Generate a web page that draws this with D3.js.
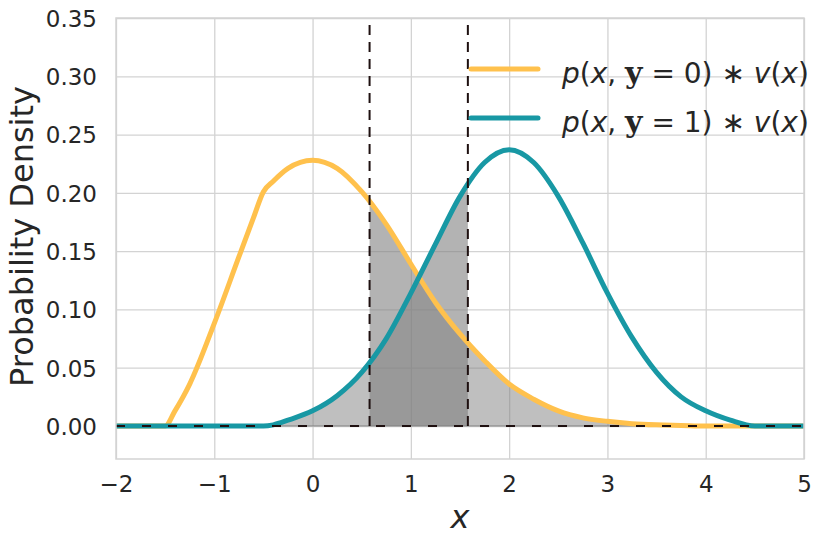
<!DOCTYPE html>
<html>
<head>
<meta charset="utf-8">
<script src="https://cdn.jsdelivr.net/npm/d3@7"></script>
<style>
  body { margin: 0; background: #fff; }
  text { font-family: "DejaVu Sans", sans-serif; fill: #262626; }
</style>
</head>
<body>
<div id="chart"></div>
<script>
// x grid shared by both curves
var xs = [-2, -1.75, -1.5, -1.4, -1.25, -1, -0.75, -0.6, -0.5, -0.4, -0.25, 0, 0.25, 0.5, 0.75, 1, 1.25, 1.5, 1.75, 2, 2.25, 2.5, 2.75, 3, 3.25, 3.5, 3.75, 4, 4.25, 4.5, 4.75, 5];
// p(x, y=0) * v(x)
var yellowVals = [0, 0, 0, 0.013, 0.036, 0.088, 0.145, 0.179, 0.201, 0.210, 0.221, 0.228, 0.221, 0.201, 0.173, 0.139, 0.106, 0.079, 0.056, 0.036, 0.023, 0.013, 0.007, 0.004, 0.002, 0.001, 0.0005, 0, 0, 0, 0, 0];
// p(x, y=1) * v(x)
var tealVals = [0, 0, 0, 0, 0, 0, 0, 0, 0, 0.001, 0.005, 0.013, 0.026, 0.046, 0.075, 0.114, 0.156, 0.197, 0.226, 0.237, 0.226, 0.197, 0.157, 0.114, 0.076, 0.046, 0.025, 0.013, 0.005, 0, 0, 0];
var windowX = [0.58, 1.58];
var xTicks = [-2, -1, 0, 1, 2, 3, 4, 5];
var yTicks = [0, 0.05, 0.10, 0.15, 0.20, 0.25, 0.30, 0.35];
var legendLabels = ["0", "1"];

var svgWidth = 830;
var svgHeight = 545;
var margin = { top: 18, right: 26, bottom: 86, left: 116 };
var chartWidth = svgWidth - margin.left - margin.right;
var chartHeight = svgHeight - margin.top - margin.bottom;

var yellow = "#ffc14d";
var teal = "#1898a4";

var svg = d3.select("#chart")
    .append("svg")
    .attr("width", svgWidth)
    .attr("height", svgHeight);

var chartGroup = svg.append("g")
    .attr("transform", `translate(${margin.left}, ${margin.top})`);

var xScale = d3.scaleLinear().domain([-2, 5]).range([0, chartWidth]);
var yScale = d3.scaleLinear().domain([-0.0283, 0.35]).range([chartHeight, 0]);

var yellowData = xs.map((x, i) => ({ x: x, y: yellowVals[i] }));
var tealData = xs.map((x, i) => ({ x: x, y: tealVals[i] }));

// grid
var xAxis = d3.axisBottom(xScale).tickValues(xTicks).tickSize(-chartHeight)
    .tickFormat(d => d < 0 ? "\u2212" + Math.abs(d) : d).tickPadding(17);
var yAxis = d3.axisLeft(yScale).tickValues(yTicks).tickSize(-chartWidth)
    .tickFormat(d3.format(".2f")).tickPadding(19);

var gx = chartGroup.append("g")
    .attr("transform", `translate(0, ${chartHeight})`)
    .call(xAxis);
var gy = chartGroup.append("g").call(yAxis);

[gx, gy].forEach(function (g) {
    g.select(".domain").remove();
    g.selectAll("line").attr("stroke", "#d3d3d3").attr("stroke-width", 1.3);
    g.selectAll("text").attr("font-size", "23px").attr("fill", "#262626");
});
gx.selectAll("text").attr("dy", "0.71em");
gy.selectAll("text").attr("dy", "0.36em");

// fills
var area = d3.area().curve(d3.curveMonotoneX)
    .x(d => xScale(d.x)).y0(yScale(0)).y1(d => yScale(d.y));

var defs = svg.append("defs");
defs.append("clipPath").attr("id", "underTeal")
    .append("path").attr("d", area(tealData));
defs.append("clipPath").attr("id", "windowClip")
    .append("rect")
    .attr("x", xScale(windowX[0]))
    .attr("y", 0)
    .attr("width", xScale(windowX[1]) - xScale(windowX[0]))
    .attr("height", chartHeight);

// area under min of both curves
chartGroup.append("g")
    .attr("opacity", 0.5)
    .append("path")
    .attr("d", area(yellowData))
    .attr("fill", "#808080")
    .attr("clip-path", "url(#underTeal)");

// area under max of both curves inside the window
var winGroup = chartGroup.append("g")
    .attr("opacity", 0.6)
    .attr("clip-path", "url(#windowClip)");
winGroup.append("path").attr("d", area(yellowData)).attr("fill", "#808080");
winGroup.append("path").attr("d", area(tealData)).attr("fill", "#808080");

// fill base edge
chartGroup.append("line")
    .attr("x1", xScale(-0.5)).attr("x2", xScale(4.5))
    .attr("y1", yScale(0)).attr("y2", yScale(0))
    .attr("stroke", "#808080").attr("stroke-opacity", 0.6).attr("stroke-width", 1.5);

// curves
var line = d3.line().curve(d3.curveMonotoneX)
    .x(d => xScale(d.x)).y(d => yScale(d.y));

chartGroup.append("path").datum(yellowData)
    .attr("d", line).attr("fill", "none")
    .attr("stroke", yellow).attr("stroke-width", 5)
    .attr("stroke-linejoin", "round");
chartGroup.append("path").datum(tealData)
    .attr("d", line).attr("fill", "none")
    .attr("stroke", teal).attr("stroke-width", 5)
    .attr("stroke-linejoin", "round");

// dashed lines
chartGroup.append("line")
    .attr("x1", 0).attr("x2", chartWidth)
    .attr("y1", yScale(0)).attr("y2", yScale(0))
    .attr("stroke", "#1e1010").attr("stroke-width", 2)
    .attr("stroke-dasharray", "9,17");

chartGroup.selectAll(".vline")
    .data(windowX)
    .enter()
    .append("line")
    .attr("x1", d => xScale(d)).attr("x2", d => xScale(d))
    .attr("y1", yScale(0)).attr("y2", yScale(0.35))
    .attr("stroke", "#1e1010").attr("stroke-width", 2)
    .attr("stroke-dasharray", "10,7");

// frame
chartGroup.append("rect")
    .attr("width", chartWidth).attr("height", chartHeight)
    .attr("fill", "none").attr("stroke", "#d3d3d3").attr("stroke-width", 1.5);

// axis labels
chartGroup.append("text")
    .attr("transform", "rotate(-90)")
    .attr("x", -chartHeight / 2 + 2)
    .attr("y", 33 - margin.left)
    .attr("text-anchor", "middle")
    .attr("font-size", "32px")
    .text("Probability Density");

chartGroup.append("text")
    .attr("x", xScale(1.5))
    .attr("y", chartHeight + 69)
    .attr("text-anchor", "middle")
    .attr("font-size", "32px")
    .attr("font-style", "italic")
    .text("x");

// legend
var legend = svg.append("g");
legendLabels.forEach(function (lab, i) {
    var ly = 69 + i * 49;
    legend.append("line")
        .attr("x1", 471).attr("x2", 538)
        .attr("y1", ly).attr("y2", ly)
        .attr("stroke", i === 0 ? yellow : teal)
        .attr("stroke-width", 5)
        .attr("stroke-linecap", "round");
    var t = legend.append("text")
        .attr("x", 562).attr("y", ly + 14)
        .attr("font-size", "28px");
    t.append("tspan").attr("font-style", "italic").text("p");
    t.append("tspan").text("(");
    t.append("tspan").attr("font-style", "italic").text("x");
    t.append("tspan").text(", ");
    t.append("tspan").attr("font-family", "DejaVu Serif").attr("font-weight", "bold").attr("font-size", "30px").text("y");
    t.append("tspan").text(" = " + lab + ") \u2217 ");
    t.append("tspan").attr("font-style", "italic").text("v");
    t.append("tspan").text("(");
    t.append("tspan").attr("font-style", "italic").text("x");
    t.append("tspan").text(")");
});
</script>
</body>
</html>
